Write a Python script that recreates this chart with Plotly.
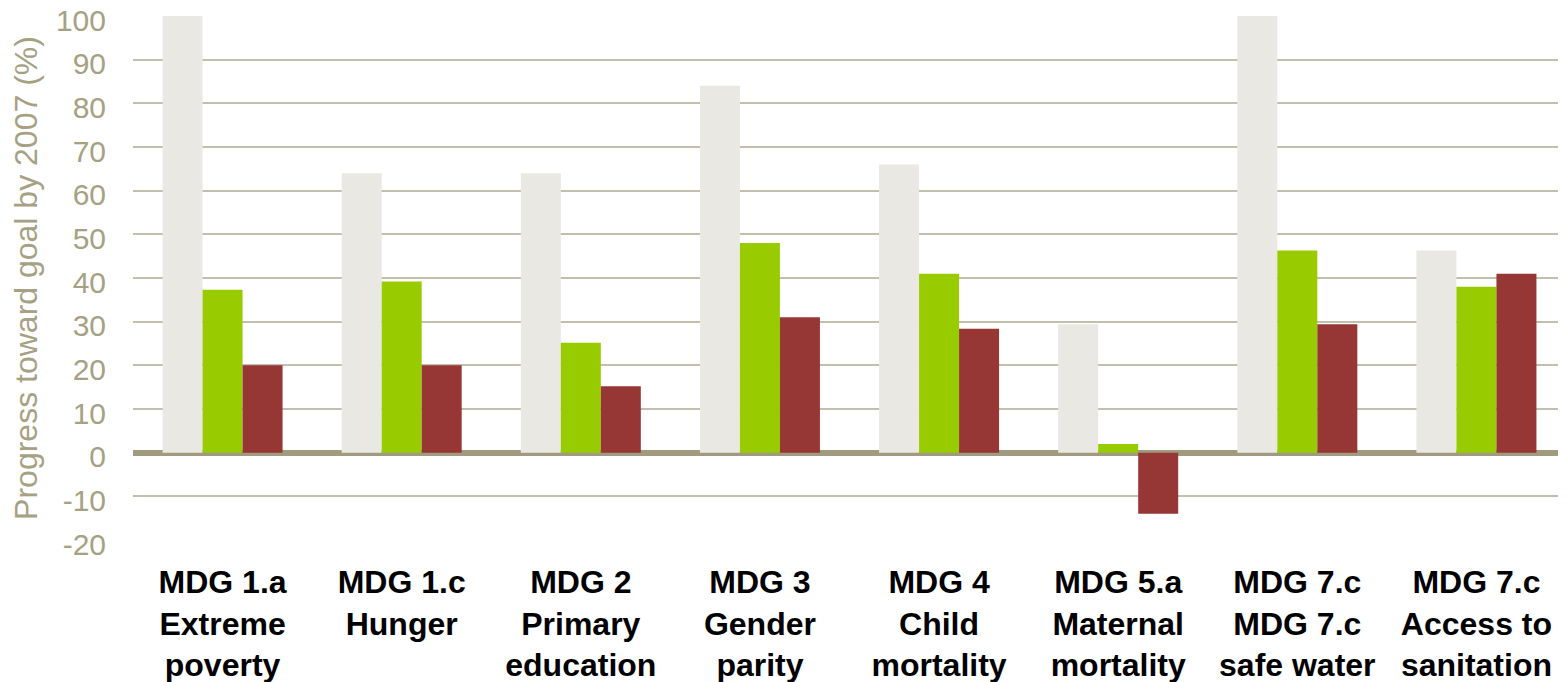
import plotly.graph_objects as go

categories = [
    "MDG 1.a<br>Extreme<br>poverty",
    "MDG 1.c<br>Hunger<br> ",
    "MDG 2<br>Primary<br>education",
    "MDG 3<br>Gender<br>parity",
    "MDG 4<br>Child<br>mortality",
    "MDG 5.a<br>Maternal<br>mortality",
    "MDG 7.c<br>MDG 7.c<br>safe water",
    "MDG 7.c<br>Access to<br>sanitation",
]
series_gray = [100, 64, 64, 84, 66, 29.4, 100, 46.3]
series_green = [37.3, 39.2, 25.2, 48, 41, 2, 46.3, 38]
series_red = [20, 20, 15.2, 31, 28.4, -14, 29.4, 41]
y_ticks = [-20, -10, 0, 10, 20, 30, 40, 50, 60, 70, 80, 90, 100]
y_tick_text = ["-20", "-10", "0", "10", "20", "30", "40", "50", "60", "70", "80", "90", "100"]

fig = go.Figure()
for vals, col in [(series_gray, "#E9E8E2"), (series_green, "#99CC00"), (series_red, "#963735")]:
    fig.add_trace(go.Bar(x=categories, y=vals, marker=dict(color=col, line=dict(width=0)),
                         showlegend=False))

fig.update_layout(
    barmode="group",
    bargap=0.33,
    bargroupgap=0,
    width=1558, height=674,
    margin=dict(l=125, r=0, t=8, b=142),
    plot_bgcolor="white", paper_bgcolor="white",
    font=dict(family="Liberation Sans, Arial, sans-serif"),
)
fig.update_yaxes(
    range=[-20, 100], tickvals=y_ticks, ticktext=y_tick_text,
    showgrid=True, gridcolor="#C3BFAE", gridwidth=1.5,
    zeroline=True, zerolinecolor="#A09B7E", zerolinewidth=6,
    tickfont=dict(size=30, color="#A6A183"),
    title=dict(text="Progress toward goal by 2007 (%)", font=dict(size=32, color="#A6A183"), standoff=8),
    ticklabelstandoff=26,
    ticklabelshift=4,
    ticklabeloverflow="allow",
    automargin=False,
)
fig.update_xaxes(
    tickfont=dict(size=32, color="black", weight="bold"),
    showline=False, ticks="", ticklabelstandoff=20,
    ticklabeloverflow="allow",
    automargin=False,
)
fig.write_html("out.html")
